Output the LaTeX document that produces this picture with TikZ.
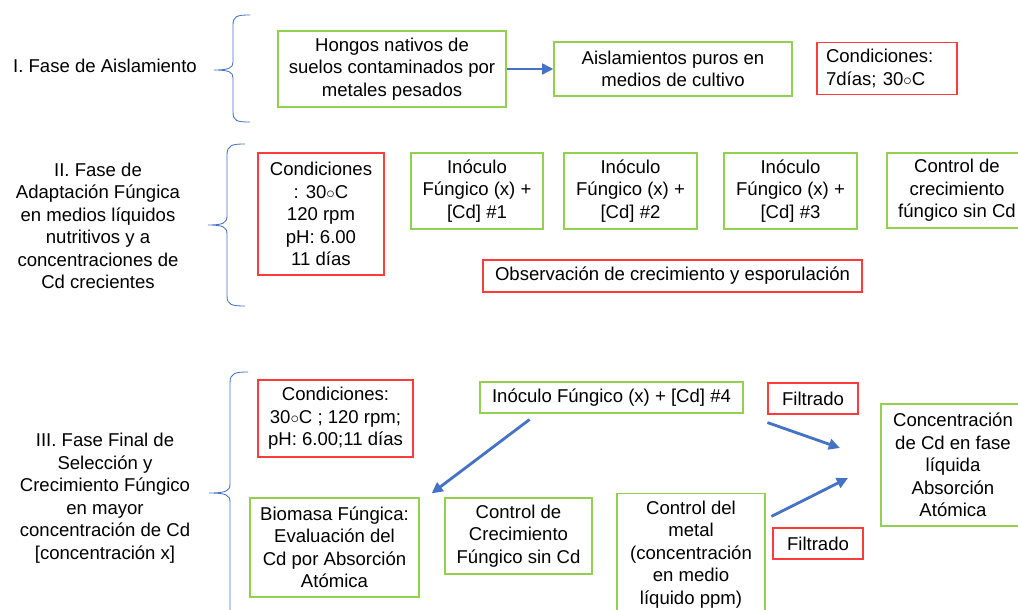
\documentclass[tikz,border=0pt]{standalone}
\usepackage{fontspec}
\setmainfont{Liberation Sans}
\usetikzlibrary{arrows.meta}
\definecolor{verdecaja}{RGB}{146,208,80}
\definecolor{rojocaja}{RGB}{255,60,60}
\definecolor{azulflecha}{RGB}{68,114,196}
\tikzset{
  texto/.style={font=\fontsize{13.2}{16}\selectfont, align=center, inner sep=0pt},
  cajaverde/.style={texto, draw=verdecaja, line width=0.8pt},
  cajaroja/.style={texto, draw=rojocaja, line width=0.8pt},
  flecha/.style={draw=azulflecha, line width=2pt, -{Triangle[length=8pt,width=7.5pt]}},
  llave/.style={draw=azulflecha, line width=0.6pt}
}

\begin{document}
\begin{tikzpicture}[x=0.025cm,y=-0.025cm]
\useasboundingbox (0,0) rectangle (1018,610);
\clip (0,0) rectangle (1018,610);

%Fase I
\node[texto] (faseI) at (105,66) {I. Fase de Aislamiento};
\draw[llave](250,15) .. controls (237,15) and (233,16) .. (233,25) -- (233,62) .. controls (233,68) and (229,70) .. (214,70) .. controls (229,70) and (233,72) .. (233,78) -- (233,112) .. controls (233,121) and (237,122) .. (250,122);
\node[cajaverde, minimum width=228*0.025cm, minimum height=76*0.025cm] (hongos) at (392,69) {Hongos nativos de\\suelos contaminados por\\metales pesados};
\node[cajaverde, minimum width=238*0.025cm, minimum height=54*0.025cm] (aislados) at (673,69) {Aislamientos puros en\\medios de cultivo};
\node[cajaroja, minimum width=140*0.025cm, minimum height=52*0.025cm, align=left, text width=122*0.025cm] (condI) at (887,68.5) {Condiciones:\\7días; 30$\circ$C};
\draw[flecha](hongos) -- (aislados);

%Fase II
\node[texto] (faseII) at (98,226) {II. Fase de\\Adaptación Fúngica\\en medios líquidos\\nutritivos y a\\concentraciones de\\Cd crecientes};
\draw[llave](245,144) .. controls (232,144) and (227,145) .. (227,155) -- (227,216) .. controls (227,223) and (223,225) .. (208,225) .. controls (223,225) and (227,227) .. (227,234) -- (227,296) .. controls (227,305) and (232,306) .. (245,306);
\node[cajaroja, minimum width=126*0.025cm, minimum height=122*0.025cm] (condII) at (321,214) {Condiciones\\: 30$\circ$C\\120 rpm\\pH: 6.00\\11 días};
\node[cajaverde, minimum width=132*0.025cm, minimum height=76*0.025cm] (inoc1) at (477,191) {Inóculo\\Fúngico (x) +\\{[Cd]} \#1};
\node[cajaverde, minimum width=133*0.025cm, minimum height=76*0.025cm] (inoc2) at (630.5,191) {Inóculo\\Fúngico (x) +\\{[Cd]} \#2};
\node[cajaverde, minimum width=133*0.025cm, minimum height=76*0.025cm] (inoc3) at (790.5,191) {Inóculo\\Fúngico (x) +\\{[Cd]} \#3};
\node[cajaverde, minimum width=140*0.025cm, minimum height=75*0.025cm] (controlII) at (957,190.5) {Control de\\crecimiento\\fúngico sin Cd};
\node[cajaroja, minimum width=379*0.025cm, minimum height=32*0.025cm] (observa) at (672.5,276) {Observación de crecimiento y esporulación};

%Fase III
\node[texto] (faseIII) at (105,498) {III. Fase Final de\\Selección y\\Crecimiento Fúngico\\en mayor\\concentración de Cd\\{[concentración x]}};
\draw[llave](248,372) .. controls (235,372) and (230,373) .. (230,383) -- (230,484) .. controls (230,491) and (226,493) .. (209,493) .. controls (226,493) and (230,495) .. (230,502) -- (230,620);
\node[cajaroja, minimum width=155*0.025cm, minimum height=77*0.025cm] (condIII) at (335.5,418.5) {Condiciones:\\30$\circ$C ; 120 rpm;\\pH: 6.00;11 días};
\node[cajaverde, minimum width=263*0.025cm, minimum height=31*0.025cm] (inoc4) at (611.5,397.5) {Inóculo Fúngico (x) + [Cd] \#4};
\node[cajaroja, minimum width=90*0.025cm, minimum height=31*0.025cm] (filtro1) at (813,398.5) {Filtrado};
\node[cajaverde, minimum width=144*0.025cm, minimum height=122*0.025cm] (concentra) at (953,465) {Concentración\\de Cd en fase\\líquida\\Absorción\\Atómica};
\node[cajaverde, minimum width=169*0.025cm, minimum height=99*0.025cm] (biomasa) at (334.5,547.5) {Biomasa Fúngica:\\Evaluación del\\Cd por Absorción\\Atómica};
\node[cajaverde, minimum width=147*0.025cm, minimum height=76*0.025cm] (controlIII) at (518.5,536) {Control de\\Crecimiento\\Fúngico sin Cd};
\node[cajaverde, minimum width=148*0.025cm, inner ysep=7*0.025cm, anchor=north] (metal) at (691,493) {Control del\\metal\\(concentración\\en medio\\líquido ppm)};
\node[cajaroja, minimum width=90*0.025cm, minimum height=31*0.025cm] (filtro2) at (818,543.5) {Filtrado};

%flechas
\coordinate (fin1) at (840,448);
\coordinate (fin2) at (848,478);
\draw[flecha]([xshift=-82*0.025cm, yshift=-6*0.025cm]inoc4.south) -- ([xshift=12*0.025cm, yshift=4*0.025cm]biomasa.north east);
\draw[flecha]([yshift=-8*0.025cm]filtro1.south west) -- (fin1);
\draw[flecha]([xshift=-1*0.025cm, yshift=11*0.025cm]filtro2.north west) -- (fin2);
\end{tikzpicture}
\end{document}
